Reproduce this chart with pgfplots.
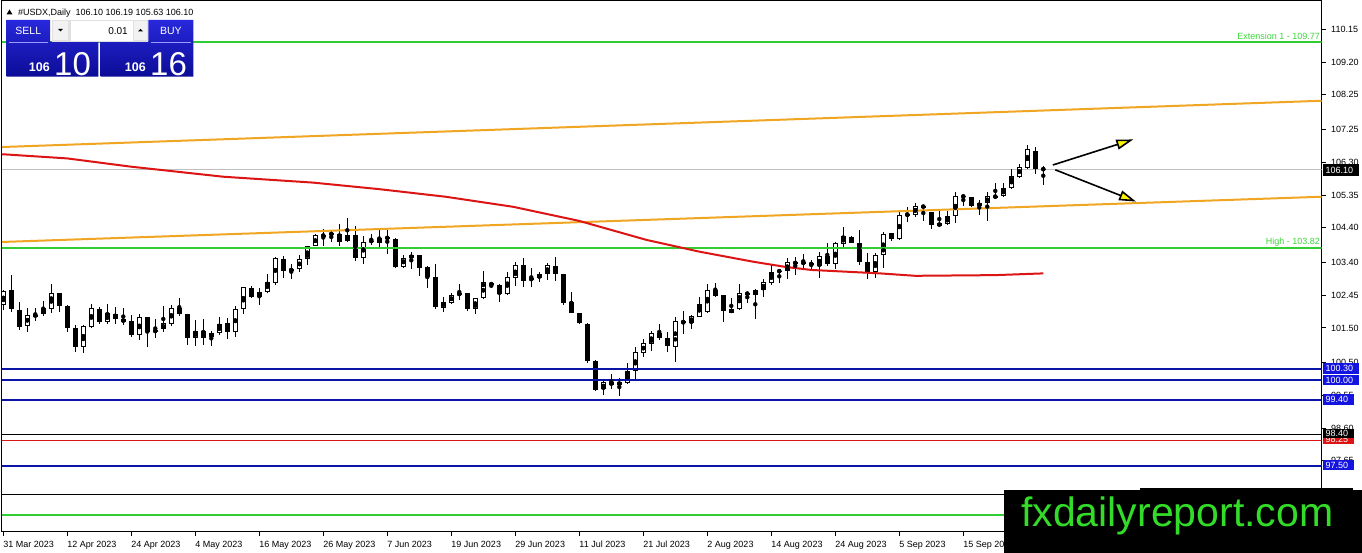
\documentclass[border=0pt]{standalone}
\usepackage{pgfplots}
\pgfplotsset{compat=1.18}
\usepackage{pgfplotstable}
\usepackage{fontspec}
\setmainfont{Liberation Sans}
\usetikzlibrary{arrows.meta}
\definecolor{lvgreen}{RGB}{50,205,50}
\definecolor{lvtext}{RGB}{60,215,60}
\definecolor{lvblue}{RGB}{10,20,165}
\definecolor{lvorange}{RGB}{240,165,35}
\definecolor{lvred}{RGB}{220,20,20}
\definecolor{paneltop}{RGB}{40,40,220}
\definecolor{panelbot}{RGB}{12,12,150}
\definecolor{wmgreen}{RGB}{50,220,40}
\definecolor{boxblue}{RGB}{20,20,225}

\pgfplotstableread{
i o h l c
0 102.17 102.60 102.02 102.57
1 102.59 103.03 101.97 102.04
2 102.01 102.24 101.43 101.53
3 101.56 102.09 101.37 101.88
4 101.84 102.09 101.70 101.88
5 101.90 102.28 101.84 102.07
6 102.04 102.77 101.94 102.50
7 102.50 102.52 101.97 102.13
8 102.14 102.16 101.39 101.49
9 101.49 101.59 100.81 100.96
10 100.96 101.59 100.77 101.56
11 101.54 102.19 101.49 102.07
12 102.04 102.10 101.61 101.68
13 101.68 102.18 101.62 101.92
14 101.90 102.10 101.61 101.75
15 101.75 102.07 101.59 101.68
16 101.70 101.88 101.25 101.30
17 101.30 101.90 101.15 101.82
18 101.81 101.83 100.96 101.39
19 101.43 101.75 101.22 101.39
20 101.46 102.15 101.37 101.63
21 101.61 102.17 101.57 102.07
22 102.07 102.36 101.84 101.91
23 101.90 101.90 101.01 101.22
24 101.20 101.73 100.99 101.41
25 101.41 101.76 101.01 101.22
26 101.23 101.41 100.99 101.35
27 101.35 101.83 101.30 101.61
28 101.63 101.78 101.17 101.39
29 101.39 102.15 101.25 102.04
30 102.04 102.70 101.90 102.68
31 102.67 102.73 102.36 102.41
32 102.39 102.67 102.17 102.55
33 102.55 103.06 102.50 102.84
34 102.81 103.57 102.75 103.54
35 103.50 103.57 102.94 103.15
36 103.15 103.34 102.92 103.21
37 103.21 103.61 103.11 103.49
38 103.50 103.87 103.31 103.86
39 103.86 104.21 103.86 104.19
40 104.16 104.37 103.87 104.19
41 104.24 104.27 104.00 104.21
42 104.22 104.50 103.86 104.00
43 104.02 104.68 103.98 104.19
44 104.19 104.46 103.44 103.52
45 103.54 104.15 103.34 104.00
46 104.00 104.21 103.90 104.03
47 103.95 104.37 103.81 104.10
48 104.12 104.37 103.63 104.10
49 104.08 104.10 103.25 103.28
50 103.28 103.61 103.25 103.54
51 103.52 103.71 103.21 103.61
52 103.60 103.61 103.02 103.25
53 103.28 103.30 102.65 102.99
54 102.99 103.34 102.05 102.12
55 102.09 102.41 101.97 102.26
56 102.23 102.52 102.19 102.46
57 102.46 102.77 102.31 102.50
58 102.50 102.52 101.99 102.05
59 102.05 102.38 101.90 102.36
60 102.36 103.15 102.34 102.82
61 102.79 102.80 102.65 102.75
62 102.75 102.77 102.26 102.48
63 102.48 103.11 102.46 102.98
64 102.94 103.40 102.73 103.31
65 103.32 103.52 102.70 102.86
66 102.89 103.23 102.70 102.94
67 102.94 103.13 102.84 103.06
68 103.06 103.37 102.89 103.32
69 103.30 103.55 102.87 103.06
70 103.06 103.06 102.17 102.23
71 102.24 102.53 101.92 101.92
72 101.92 101.94 101.62 101.63
73 101.62 101.63 100.48 100.55
74 100.55 100.57 99.68 99.70
75 99.72 99.97 99.56 99.92
76 99.93 100.17 99.72 99.85
77 99.85 100.04 99.54 99.93
78 99.90 100.50 99.88 100.25
79 100.25 100.94 100.01 100.80
80 100.77 101.17 100.67 101.06
81 101.03 101.42 100.83 101.35
82 101.35 101.62 101.15 101.22
83 101.22 101.37 100.81 100.98
84 100.96 101.83 100.51 101.71
85 101.70 102.00 101.32 101.65
86 101.63 101.88 101.47 101.85
87 101.83 102.41 101.81 102.19
88 101.95 102.76 101.92 102.60
89 102.60 102.81 102.41 102.44
90 102.46 102.46 101.68 101.99
91 101.94 102.36 101.92 102.05
92 102.04 102.77 102.02 102.52
93 102.47 102.55 102.23 102.52
94 102.46 102.62 101.75 102.60
95 102.60 102.91 102.39 102.82
96 102.79 103.35 102.75 103.13
97 103.13 103.20 102.79 103.16
98 103.15 103.52 102.92 103.40
99 103.37 103.57 103.03 103.40
100 103.37 103.63 103.23 103.40
101 103.39 103.47 103.18 103.32
102 103.30 103.69 102.96 103.57
103 103.59 103.95 103.28 103.34
104 103.34 103.98 103.21 103.95
105 103.92 104.43 103.81 104.16
106 104.13 104.15 103.95 103.97
107 103.95 104.34 103.32 103.42
108 103.42 103.66 102.92 103.13
109 103.13 103.66 102.94 103.61
110 103.61 104.27 103.23 104.21
111 104.24 104.26 104.02 104.08
112 104.08 104.85 104.05 104.77
113 104.77 104.99 104.56 104.80
114 104.77 105.11 104.72 105.03
115 105.00 105.06 104.60 105.03
116 104.85 104.87 104.37 104.48
117 104.46 104.89 104.42 104.53
118 104.50 104.89 104.48 104.74
119 104.74 105.43 104.53 105.32
120 105.29 105.37 105.04 105.33
121 105.28 105.30 104.99 105.04
122 105.03 105.21 104.77 105.11
123 105.11 105.43 104.60 105.32
124 105.28 105.69 105.25 105.33
125 105.33 105.69 105.30 105.54
126 105.54 106.10 105.53 105.91
127 105.88 106.24 105.84 106.17
128 106.12 106.80 106.10 106.68
129 106.63 106.73 105.96 106.10
130 106.10 106.19 105.63 106.10
}\candles

\begin{document}
\begin{tikzpicture}[x=1bp,y=1bp,font=\fontsize{9bp}{10bp}\selectfont]
\useasboundingbox (0,0) rectangle (1362,553);
\fill[white] (0,0) rectangle (1362,553);
\begin{axis}[
  at={(2bp,21bp)}, anchor=south west, scale only axis,
  width=1319.5bp, height=531bp,
  xmin=-0.16, xmax=164.78, ymin=95.59, ymax=110.97,
  axis line style={black, line width=1bp},
  tick align=outside, major tick length=4bp,
  tick style={black, line width=1bp},
  xtick pos=left, ytick pos=right, yticklabel pos=right,
  xtick={0,8,...,120},
  xticklabels={31 Mar 2023,12 Apr 2023,24 Apr 2023,4 May 2023,16 May 2023,26 May 2023,7 Jun 2023,19 Jun 2023,29 Jun 2023,11 Jul 2023,21 Jul 2023,2 Aug 2023,14 Aug 2023,24 Aug 2023,5 Sep 2023,15 Sep 2023},
  xticklabel style={anchor=north west, inner sep=0pt, text height=6.6bp, text depth=0bp, yshift=-5bp, font=\fontsize{9bp}{10bp}\selectfont},
  ytick={110.15,109.20,108.25,107.25,106.30,105.35,104.40,103.40,102.45,101.50,100.50,99.55,98.60,97.65},
  yticklabels={110.15,109.20,108.25,107.25,106.30,105.35,104.40,103.40,102.45,101.50,100.50,99.55,98.60,97.65},
  yticklabel style={anchor=west, inner sep=0pt, xshift=5.5bp, font=\fontsize{9bp}{10bp}\selectfont},
]
% sub-window lines
\addplot[black, line width=1bp, forget plot] coordinates {(-1,96.69) (170,96.69)};
\addplot[lvgreen, line width=2bp, forget plot] coordinates {(-1,96.08) (170,96.08)};
% bid line
\addplot[black!25, line width=1bp, forget plot] coordinates {(-1,106.10) (170,106.10)};
% candles: wicks
\addplot[only marks, mark=none, forget plot,
  error bars/.cd, y dir=both, y explicit, error mark=none,
  error bar style={draw=black, line width=1bp}]
  table[x=i, y expr={(\thisrow{h}+\thisrow{l})/2}, y error expr={(\thisrow{h}-\thisrow{l})/2}] {\candles};
% bodies (black)
\addplot[only marks, mark=none, forget plot,
  error bars/.cd, y dir=both, y explicit, error mark=none,
  error bar style={draw=black, line width=5bp}]
  table[x=i, y expr={(\thisrow{o}+\thisrow{c})/2}, y error expr={max(abs(\thisrow{c}-\thisrow{o})/2,0.0145)}] {\candles};
% bodies (white inside of rising candles)
\addplot[only marks, mark=none, forget plot,
  error bars/.cd, y dir=both, y explicit, error mark=none,
  error bar style={draw=white, line width=3bp}]
  table[x=i, y expr={(\thisrow{o}+\thisrow{c})/2}, y error expr={max((\thisrow{c}-\thisrow{o})/2-0.029,0)}] {\candles};
% horizontal levels
\addplot[lvgreen, line width=2bp, forget plot] coordinates {(-1,109.77) (170,109.77)};
\addplot[lvgreen, line width=2bp, forget plot] coordinates {(-1,103.82) (170,103.82)};
\addplot[lvblue, line width=2bp, forget plot] coordinates {(-1,100.30) (170,100.30)};
\addplot[lvblue, line width=2bp, forget plot] coordinates {(-1,100.00) (170,100.00)};
\addplot[lvblue, line width=2bp, forget plot] coordinates {(-1,99.40) (170,99.40)};
\addplot[black, line width=1bp, forget plot] coordinates {(-1,98.40) (170,98.40)};
\addplot[lvred, line width=1bp, forget plot] coordinates {(-1,98.25) (170,98.25)};
\addplot[lvblue, line width=2bp, forget plot] coordinates {(-1,97.50) (170,97.50)};
% channel lines
\addplot[lvorange, line width=2bp, forget plot] coordinates {(-0.16,106.74) (164.78,108.08)};
\addplot[lvorange, line width=2bp, forget plot] coordinates {(-0.16,103.99) (164.78,105.30)};
% moving average
\addplot[lvred, line width=2bp, forget plot] coordinates {
(-0.16,106.53) (0,106.53) (8,106.41) (16,106.17) (27.5,105.88) (38.7,105.71) (47,105.52)
(55.3,105.30) (63.7,105.01) (72,104.60) (80.4,104.05) (87,103.71) (93.7,103.42)
(97.7,103.27) (101,103.18) (109.6,103.08) (114,103.01) (124,103.03) (130,103.08)};
% level labels
\node[anchor=base east, inner sep=0pt, text=lvtext, font=\fontsize{9bp}{10bp}\selectfont, yshift=2.5bp] at (axis cs:164.6,109.77) {Extension 1 - 109.77};
\node[anchor=base east, inner sep=0pt, text=lvtext, font=\fontsize{9bp}{10bp}\selectfont, yshift=3bp] at (axis cs:164.6,103.82) {High - 103.82};
% arrows
\draw[black, line width=1.6bp, -{Triangle[length=17bp,width=10bp,fill=yellow]}] (axis cs:131.2,106.22) -- (axis cs:141.25,106.96);
\draw[black, line width=1.6bp, -{Triangle[length=17bp,width=10bp,fill=yellow]}] (axis cs:131.5,106.08) -- (axis cs:141.6,105.16);
\end{axis}

% right price boxes
\fill[black] (1322.5,{553-176}) rectangle (1358.5,{553-164.5});
\node[white, anchor=west, inner sep=0pt] at (1325.5,{553-170.3}) {106.10};
\fill[boxblue] (1322.5,{553-374.2}) rectangle (1359,{553-363.5});
\node[white, anchor=west, inner sep=0pt] at (1325.5,{553-368.9}) {100.30};
\fill[boxblue] (1322.5,{553-385.3}) rectangle (1359,{553-374.8});
\node[white, anchor=west, inner sep=0pt] at (1325.5,{553-380}) {100.00};
\fill[boxblue] (1322.5,{553-405}) rectangle (1354,{553-394});
\node[white, anchor=west, inner sep=0pt] at (1325.5,{553-399.6}) {99.40};
\fill[lvred] (1322.5,{553-444.3}) rectangle (1354,{553-433.5});
\node[white, anchor=west, inner sep=0pt] at (1325.5,{553-439}) {98.25};
\fill[black] (1322.5,{553-438.5}) rectangle (1354,{553-429.2});
\node[white, anchor=west, inner sep=0pt] at (1325.5,{553-433.9}) {98.40};
\fill[boxblue] (1322.5,{553-470.5}) rectangle (1354,{553-460});
\node[white, anchor=west, inner sep=0pt] at (1325.5,{553-465.3}) {97.50};

% header text
\fill[black] (6.5,{553-14.5}) -- (12.5,{553-14.5}) -- (9.5,{553-9.5}) -- cycle;
\node[anchor=base west, inner sep=0pt] at (18,{553-15.8}) {\#USDX,Daily\hspace{5bp}106.10 106.19 105.63 106.10};

% trading panel
\shade[top color=paneltop, bottom color=panelbot] (6.7,{553-20}) -- (50,{553-20}) -- (50,{553-41.7}) -- (98.3,{553-41.7}) -- (98.3,{553-76.7}) -- (6.7,{553-76.7}) -- cycle;
\shade[top color=paneltop, bottom color=panelbot] (148.3,{553-20}) -- (193.3,{553-20}) -- (193.3,{553-76.7}) -- (100.7,{553-76.7}) -- (100.7,{553-41.7}) -- (148.3,{553-41.7}) -- cycle;
\draw[white!60!blue, line width=0.8bp] (9,{553-42}) -- (48,{553-42});
\draw[white!60!blue, line width=0.8bp] (150.5,{553-42}) -- (191,{553-42});
\fill[black!12] (51.5,{553-20}) rectangle (148,{553-41.7});
\fill[black!5] (53,{553-21.5}) rectangle (68,{553-40});
\fill[white] (70.5,{553-21}) rectangle (132.5,{553-40.7});
\fill[black!5] (134,{553-21.5}) rectangle (147,{553-40});
\fill[black] (58,{553-29}) -- (63,{553-29}) -- (60.5,{553-31.5}) -- cycle;
\fill[black] (138,{553-31.5}) -- (143,{553-31.5}) -- (140.5,{553-29}) -- cycle;
\node[white, inner sep=0pt, font=\fontsize{10.5bp}{11bp}\selectfont] at (28.3,{553-31}) {SELL};
\node[white, inner sep=0pt, font=\fontsize{10.5bp}{11bp}\selectfont] at (170.8,{553-31}) {BUY};
\node[black, anchor=east, inner sep=0pt, font=\fontsize{10bp}{11bp}\selectfont] at (128,{553-31}) {0.01};
\node[white, anchor=base east, inner sep=0pt, font=\bfseries\fontsize{12.5bp}{13bp}\selectfont] at (50,{553-72}) {106};
\node[white, anchor=base west, inner sep=0pt, font=\fontsize{33bp}{33bp}\selectfont] at (54,{553-75.5}) {10};
\node[white, anchor=base east, inner sep=0pt, font=\bfseries\fontsize{12.5bp}{13bp}\selectfont] at (146,{553-72}) {106};
\node[white, anchor=base west, inner sep=0pt, font=\fontsize{33bp}{33bp}\selectfont] at (150,{553-75.5}) {16};

% watermark
\fill[black] (1004,0) rectangle (1362,{553-490});
\fill[black] (1140,{553-490.5}) rectangle (1353,{553-488.5});
\node[anchor=base west, inner sep=0pt, text=wmgreen, font=\fontsize{41bp}{41bp}\selectfont] at (1021,{553-526.7}) {fxdailyreport.com};
\end{tikzpicture}
\end{document}
